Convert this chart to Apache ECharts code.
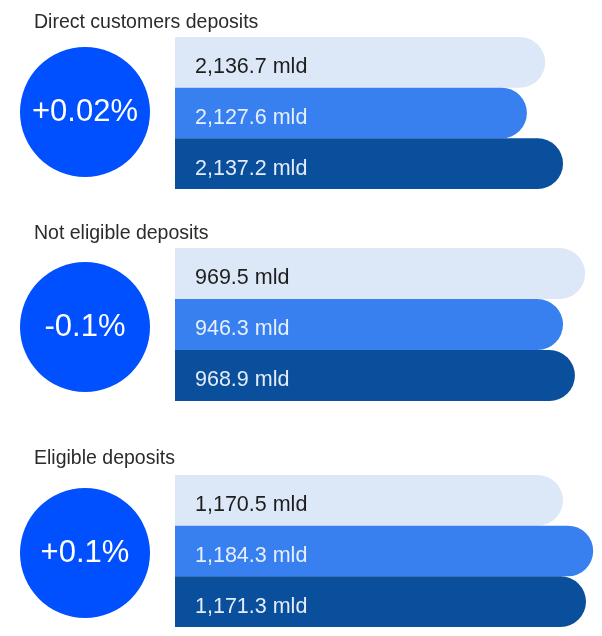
<!DOCTYPE html>
<html>
<head>
<meta charset="utf-8">
<script src="https://cdn.jsdelivr.net/npm/echarts@6/dist/echarts.min.js"></script>
<style>html,body{margin:0;padding:0;background:#fff}#c{width:602px;height:636px}</style>
</head>
<body>
<div id="c"></div>
<script>
// ---- data ----
var groupTitles = ['Direct customers deposits', 'Not eligible deposits', 'Eligible deposits'];
var changes = ['+0.02%', '-0.1%', '+0.1%'];
var directValues = [2136.7, 2127.6, 2137.2];
var notEligibleValues = [969.5, 946.3, 968.9];
var eligibleValues = [1170.5, 1184.3, 1171.3];
// drawn bar lengths (relative scale, 0-100)
var directBarScale = [87.1, 82.8, 91.3];
var notEligibleBarScale = [96.5, 91.3, 94.1];
var eligibleBarScale = [91.3, 98.4, 96.7];
var rowCategories = ['a', 'b', 'c'];

var groupValues = [directValues, notEligibleValues, eligibleValues];
var groupScale = [directBarScale, notEligibleBarScale, eligibleBarScale];

// ---- layout / style ----
var barColors = ['#dce8f7', '#3880ef', '#0a4f9c'];
var labelColors = ['#1e1e1e', '#e6efff', '#e3ecf8'];
var gridTops = [37, 248, 475];
var gridHeights = [152, 153, 152];
var titleTops = [8, 219, 444];
var circleY = [112, 327, 553];

function fmt(v) {
  return v.toLocaleString('en-US', {minimumFractionDigits: 1, maximumFractionDigits: 1}) + ' mld';
}

var grids = [], xAxes = [], yAxes = [], series = [], titles = [];
for (var g = 0; g < 3; g++) {
  grids.push({left: 175, width: 425, top: gridTops[g], height: gridHeights[g], containLabel: false});
  xAxes.push({type: 'value', gridIndex: g, min: 0, max: 100, show: false});
  yAxes.push({type: 'category', gridIndex: g, data: rowCategories, inverse: true, show: false});
  titles.push({text: groupTitles[g], left: 29, top: titleTops[g],
    textStyle: {fontFamily: 'Liberation Sans', fontSize: 19.5, fontWeight: 'normal', color: '#2b2b2b'}});
  var data = [];
  for (var i = 0; i < 3; i++) {
    (function (gi, ii) {
      data.push({
        value: groupScale[gi][ii],
        itemStyle: {color: barColors[ii]},
        label: {color: labelColors[ii], formatter: function () { return fmt(groupValues[gi][ii]); }}
      });
    })(g, i);
  }
  series.push({
    type: 'bar', xAxisIndex: g, yAxisIndex: g, data: data,
    barWidth: '100%', barCategoryGap: 0, silent: true,
    itemStyle: {borderRadius: [0, 26, 26, 0]},
    label: {show: true, position: 'insideLeft', offset: [15, 5], fontFamily: 'Liberation Sans', fontSize: 21.5}
  });
  series.push({
    type: 'pie', radius: [0, 65], center: [85, circleY[g]], silent: true,
    data: [{value: 1, name: changes[g], itemStyle: {color: '#0050ff'}}],
    label: {show: true, position: 'center', formatter: '{b}', color: '#ffffff',
      fontFamily: 'Liberation Sans', fontSize: 31},
    labelLine: {show: false}
  });
}

var chart = echarts.init(document.getElementById('c'));
chart.setOption({
  animation: false,
  backgroundColor: '#ffffff',
  title: titles,
  grid: grids,
  xAxis: xAxes,
  yAxis: yAxes,
  series: series
});
</script>
</body>
</html>
